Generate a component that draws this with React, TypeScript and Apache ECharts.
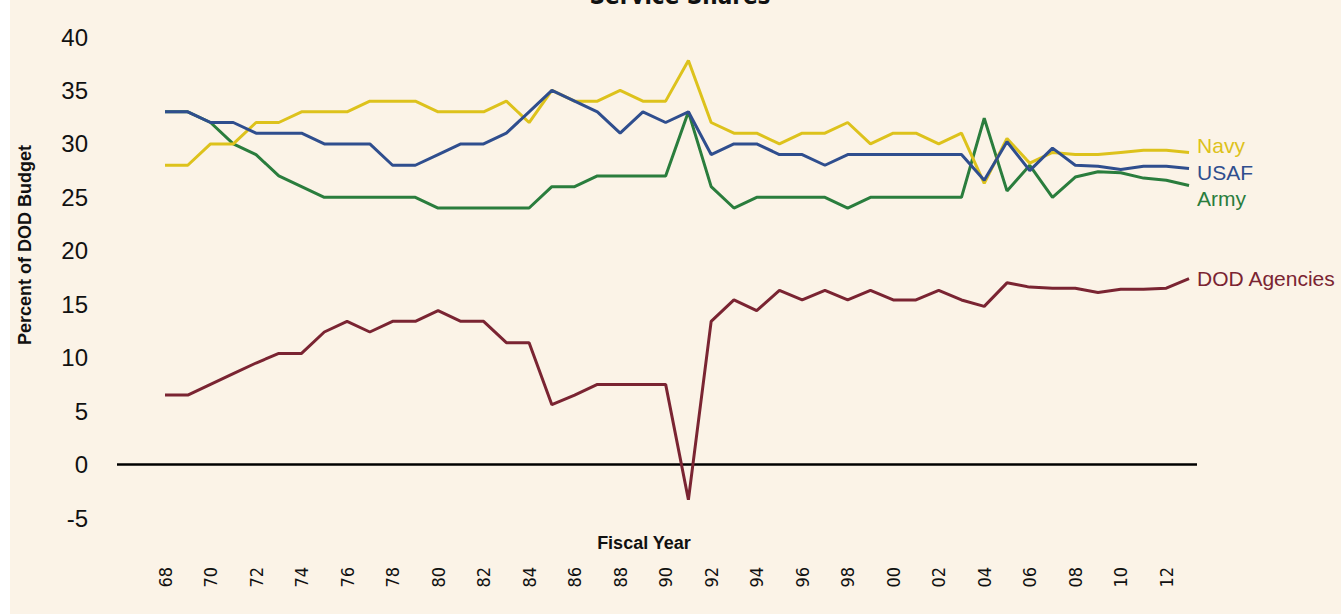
import React, { useEffect, useRef } from "react";
import * as echarts from "echarts";

const years = [
  1968, 1969, 1970, 1971, 1972, 1973, 1974, 1975, 1976, 1977, 1978, 1979,
  1980, 1981, 1982, 1983, 1984, 1985, 1986, 1987, 1988, 1989, 1990, 1991,
  1992, 1993, 1994, 1995, 1996, 1997, 1998, 1999, 2000, 2001, 2002, 2003,
  2004, 2005, 2006, 2007, 2008, 2009, 2010, 2011, 2012, 2013,
];

const navy = [
  28, 28, 30, 30, 32, 32, 33, 33, 33, 34, 34, 34, 33, 33, 33, 34, 32, 35, 34,
  34, 35, 34, 34, 37.8, 32, 31, 31, 30, 31, 31, 32, 30, 31, 31, 30, 31, 26.3,
  30.5, 28.2, 29.2, 29, 29, 29.2, 29.4, 29.4, 29.2,
];

const usaf = [
  33, 33, 32, 32, 31, 31, 31, 30, 30, 30, 28, 28, 29, 30, 30, 31, 33, 35, 34,
  33, 31, 33, 32, 33, 29, 30, 30, 29, 29, 28, 29, 29, 29, 29, 29, 29, 26.6,
  30.2, 27.5, 29.6, 28, 27.9, 27.6, 27.9, 27.9, 27.7,
];

const army = [
  33, 33, 32, 30, 29, 27, 26, 25, 25, 25, 25, 25, 24, 24, 24, 24, 24, 26, 26,
  27, 27, 27, 27, 33, 26, 24, 25, 25, 25, 25, 24, 25, 25, 25, 25, 25, 32.4,
  25.6, 28, 25, 26.9, 27.4, 27.3, 26.8, 26.6, 26.1,
];

const dodAgencies = [
  6.5, 6.5, 7.5, 8.5, 9.5, 10.4, 10.4, 12.4, 13.4, 12.4, 13.4, 13.4, 14.4,
  13.4, 13.4, 11.4, 11.4, 5.6, 6.5, 7.5, 7.5, 7.5, 7.5, -3.3, 13.4, 15.4, 14.4,
  16.3, 15.4, 16.3, 15.4, 16.3, 15.4, 15.4, 16.3, 15.4, 14.8, 17, 16.6, 16.5,
  16.5, 16.1, 16.4, 16.4, 16.5, 17.4,
];

const tickYears = [
  1968, 1970, 1972, 1974, 1976, 1978, 1980, 1982, 1984, 1986, 1988, 1990,
  1992, 1994, 1996, 1998, 2000, 2002, 2004, 2006, 2008, 2010, 2012,
];

const seriesNames = ["Navy", "USAF", "Army", "DOD Agencies"];

const COLORS = {
  navy: "#DDC21C",
  usaf: "#2F4E8E",
  army: "#2A7D3D",
  dod: "#7A2432",
};

const BG = "#FBF3E7";
const SANS = "'Liberation Sans', Arial, Helvetica, sans-serif";
const NARROW =
  "'Liberation Sans Narrow', 'DejaVu Sans Condensed', 'Liberation Sans', sans-serif";

function pairs(vals: number[]) {
  return years.map((y, i) => [y, vals[i]]);
}

export default function App() {
  const ref = useRef<HTMLDivElement>(null);

  useEffect(() => {
    if (!ref.current) return;
    const chart = echarts.init(ref.current, undefined, { renderer: "svg" });

    const mkSeries = (
      name: string,
      vals: number[],
      color: string,
      offsetY: number,
      z: number,
      extra: any = {}
    ) => ({
      name,
      type: "line",
      data: pairs(vals),
      showSymbol: false,
      symbol: "none",
      z,
      lineStyle: { color, width: 3 },
      itemStyle: { color },
      endLabel: {
        show: true,
        formatter: name,
        color,
        fontFamily: SANS,
        fontSize: 21,
        distance: 8,
        offset: [0, offsetY],
      },
      ...extra,
    });

    chart.setOption({
      animation: false,
      backgroundColor: BG,
      textStyle: { fontFamily: SANS },
      grid: { left: 107, top: 37, width: 1080, height: 481, containLabel: false },
      xAxis: {
        type: "value",
        min: 1965.89,
        max: 2013.35,
        axisLine: { show: false },
        axisTick: { show: false },
        splitLine: { show: false },
        axisLabel: {
          customValues: tickYears,
          rotate: 90,
          margin: 49,
          color: "#111",
          fontFamily: NARROW,
          fontSize: 18,
          formatter: (v: number) => String(v).slice(2),
        },
      },
      yAxis: {
        type: "value",
        min: -5,
        max: 40,
        interval: 5,
        axisLine: { show: false },
        axisTick: { show: false },
        splitLine: { show: false },
        axisLabel: {
          margin: 29,
          color: "#111",
          fontFamily: SANS,
          fontSize: 24,
        },
      },
      graphic: [
        {
          type: "text",
          x: 670,
          y: -16,
          style: {
            text: "Service Shares",
            fontFamily: NARROW,
            fontWeight: "bold",
            fontSize: 24,
            fill: "#111",
            align: "center",
          },
        },
        {
          type: "text",
          x: 15,
          y: 245,
          rotation: Math.PI / 2,
          style: {
            text: "Percent of DOD Budget",
            fontFamily: SANS,
            fontWeight: "bold",
            fontSize: 18,
            fill: "#111",
            align: "center",
            verticalAlign: "middle",
          },
        },
        {
          type: "text",
          x: 634,
          y: 543,
          style: {
            text: "Fiscal Year",
            fontFamily: SANS,
            fontWeight: "bold",
            fontSize: 18,
            fill: "#111",
            align: "center",
            verticalAlign: "middle",
          },
        },
      ],
      series: [
        mkSeries(seriesNames[2], army, COLORS.army, 13, 2),
        mkSeries(seriesNames[0], navy, COLORS.navy, -7, 3),
        mkSeries(seriesNames[1], usaf, COLORS.usaf, 4, 4),
        mkSeries(seriesNames[3], dodAgencies, COLORS.dod, 0, 5, {
          markLine: {
            silent: true,
            symbol: "none",
            label: { show: false },
            lineStyle: { color: "#000", width: 2.5, type: "solid" },
            data: [{ yAxis: 0 }],
            z: 1,
          },
        }),
      ],
    });

    return () => chart.dispose();
  }, []);

  return (
    <div
      ref={ref}
      style={{ position: "fixed", left: 10, top: 0, width: 1331, height: 614 }}
    />
  );
}
